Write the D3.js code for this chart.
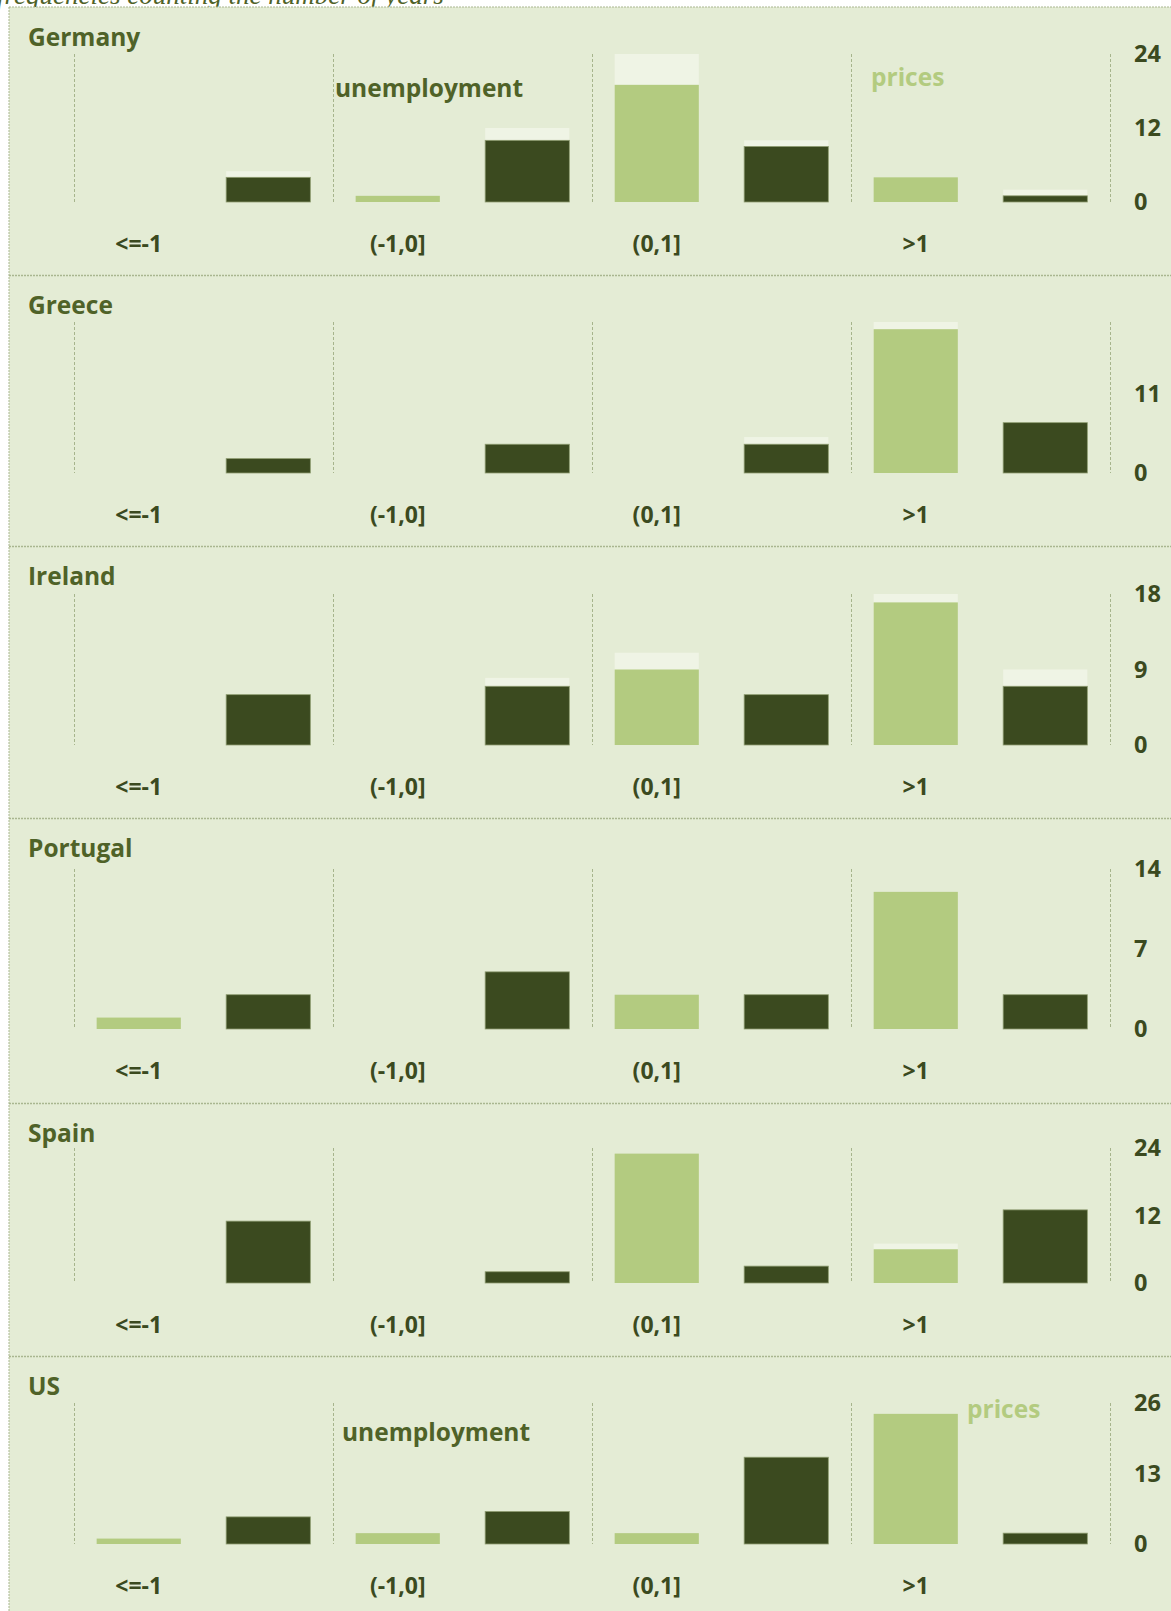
<!DOCTYPE html>
<html>
<head>
<meta charset="utf-8">
<script src="https://cdn.jsdelivr.net/npm/d3@7"></script>
<style>
  html, body { margin: 0; padding: 0; background: #ffffff; }
  svg { display: block; }
</style>
</head>
<body>
<svg id="chart" width="1171" height="1611"></svg>
<script>
// ---------------- DATA ----------------
const titleText = "frequencies counting the number of years";
const categories = ["<=-1", "(-1,0]", "(0,1]", ">1"];
const countries = ["Germany", "Greece", "Ireland", "Portugal", "Spain", "US"];
const seriesNames = ["prices", "unemployment"];
// years per bin (main bars)
const prices = [
  [0, 1, 19, 4],
  [0, 0, 0, 20],
  [0, 0, 9, 17],
  [1, 0, 3, 12],
  [0, 0, 23, 6],
  [1, 2, 2, 24]
];
const unemployment = [
  [4, 10, 9, 1],
  [2, 4, 4, 7],
  [6, 7, 6, 7],
  [3, 5, 3, 3],
  [11, 2, 3, 13],
  [5, 6, 16, 2]
];
// additional years shown as pale cap on top of each bar
const pricesExtra = [
  [0, 0, 5, 0],
  [0, 0, 0, 1],
  [0, 0, 2, 1],
  [0, 0, 0, 0],
  [0, 0, 0, 1],
  [0, 0, 0, 0]
];
const unemploymentExtra = [
  [1, 2, 1, 1],
  [0, 0, 1, 0],
  [0, 1, 0, 2],
  [0, 0, 0, 0],
  [0, 0, 0, 0],
  [0, 0, 0, 0]
];
const axisMax = [24, 21, 18, 14, 24, 26];
const axisTicks = [[0, 12, 24], [0, 11], [0, 9, 18], [0, 7, 14], [0, 12, 24], [0, 13, 26]];
const legendPanels = ["Germany", "US"];

// ---------------- LAYOUT (positions only) ----------------
const W = 1171, H = 1611;
const panelTops = [7, 275, 546, 818, 1103, 1356, 1611];
const plotTops = [54, 322, 594, 869, 1148, 1403];
const baselines = [202, 473, 745, 1029, 1283, 1544];
const plotLeft = 74, plotRight = 1110;
const legendPos = {
  Germany: { unemployment: [335, 88], prices: [871, 77] },
  US: { unemployment: [342, 1432], prices: [967, 1409] }
};

const C = {
  bg: "#e4ecd5",
  dark: "#3b4a1f",
  light: "#b3cb80",
  cap: "#eff4e5",
  olive: "#4f6228",
  grid: "#a6b48c",
  sep: "#a9b690"
};
const FONT = "'Open Sans', 'Noto Sans', sans-serif";

const svg = d3.select("#chart");

// title (mostly cut off at the top, as in the original)
svg.append("text")
  .attr("x", -3).attr("y", 4)
  .attr("font-family", "'Liberation Serif', 'DejaVu Serif', serif")
  .attr("font-style", "italic")
  .attr("font-size", 27)
  .attr("fill", C.olive)
  .text(titleText);

// panel background
svg.append("rect")
  .attr("x", 9).attr("y", 7)
  .attr("width", W - 9 + 5).attr("height", H - 7 + 5)
  .attr("fill", C.bg)
  .attr("stroke", C.sep).attr("stroke-width", 1)
  .attr("stroke-dasharray", "2,1");

// separators
svg.selectAll("line.sep")
  .data(panelTops.slice(1, 6))
  .join("line")
  .attr("class", "sep")
  .attr("x1", 9).attr("x2", W)
  .attr("y1", d => d + 0.5).attr("y2", d => d + 0.5)
  .attr("stroke", C.sep).attr("stroke-width", 1.3)
  .attr("stroke-dasharray", "2,1");

// slot keys: for each category, prices then unemployment
const slots = [];
categories.forEach(c => seriesNames.forEach(s => slots.push(c + "|" + s)));
const x = d3.scaleBand().domain(slots).range([plotLeft, plotRight])
  .paddingInner(0.35).paddingOuter(0.175);
const xCat = d3.scaleBand().domain(categories).range([plotLeft, plotRight]);

countries.forEach((country, i) => {
  const g = svg.append("g").attr("class", "panel");
  const y = d3.scaleLinear().domain([0, axisMax[i]]).range([baselines[i], plotTops[i]]);

  // country name
  g.append("text")
    .attr("x", 28).attr("y", panelTops[i] + 30).attr("dy", "0.35em")
    .attr("font-family", FONT).attr("font-weight", 700).attr("font-size", 24.5)
    .attr("fill", C.olive)
    .text(country);

  // dashed vertical separators
  const bounds = categories.map(c => xCat(c)).concat([plotRight]);
  g.selectAll("line.vg").data(bounds).join("line")
    .attr("class", "vg")
    .attr("x1", d => Math.round(d) + 0.5).attr("x2", d => Math.round(d) + 0.5)
    .attr("y1", plotTops[i]).attr("y2", baselines[i])
    .attr("stroke", C.grid).attr("stroke-width", 1)
    .attr("stroke-dasharray", "3,2");

  // bar records
  const recs = [];
  categories.forEach((c, j) => {
    recs.push({ key: c + "|prices", v: prices[i][j], extra: pricesExtra[i][j], s: "prices" });
    recs.push({ key: c + "|unemployment", v: unemployment[i][j], extra: unemploymentExtra[i][j], s: "unemployment" });
  });

  // pale caps (total incl. extra)
  g.selectAll("rect.cap").data(recs.filter(d => d.extra > 0)).join("rect")
    .attr("class", "cap")
    .attr("x", d => x(d.key)).attr("width", x.bandwidth())
    .attr("y", d => y(d.v + d.extra)).attr("height", d => y(0) - y(d.v + d.extra))
    .attr("fill", C.cap);

  // main bars
  g.selectAll("rect.bar").data(recs.filter(d => d.v > 0)).join("rect")
    .attr("class", "bar")
    .attr("x", d => x(d.key)).attr("width", x.bandwidth())
    .attr("y", d => y(d.v)).attr("height", d => y(0) - y(d.v))
    .attr("fill", d => d.s === "prices" ? C.light : C.dark)
    .attr("stroke", d => d.s === "prices" ? "none" : "#8e9c70")
    .attr("stroke-width", 0.8);

  // right axis
  const ax = g.append("g")
    .attr("transform", `translate(${plotRight + 24},0)`)
    .call(d3.axisRight(y).tickValues(axisTicks[i]).tickSize(0).tickPadding(0).tickFormat(d3.format("d")));
  ax.select(".domain").remove();
  ax.selectAll("text")
    .attr("font-family", FONT).attr("font-weight", 700).attr("font-size", 23.5)
    .attr("fill", C.dark);

  // category labels (under the prices bar of each category)
  g.selectAll("text.cat").data(categories).join("text")
    .attr("class", "cat")
    .attr("x", c => x(c + "|prices") + x.bandwidth() / 2)
    .attr("y", baselines[i] + 42).attr("dy", "0.35em")
    .attr("text-anchor", "middle")
    .attr("font-family", FONT).attr("font-weight", 700).attr("font-size", 23)
    .attr("fill", C.dark)
    .text(c => c);

  // series labels
  if (legendPanels.includes(country)) {
    const lp = legendPos[country];
    g.append("text")
      .attr("x", lp.unemployment[0]).attr("y", lp.unemployment[1]).attr("dy", "0.35em")
      .attr("font-family", FONT).attr("font-weight", 700).attr("font-size", 24.5)
      .attr("fill", C.olive).text(seriesNames[1]);
    g.append("text")
      .attr("x", lp.prices[0]).attr("y", lp.prices[1]).attr("dy", "0.35em")
      .attr("font-family", FONT).attr("font-weight", 700).attr("font-size", 24.5)
      .attr("fill", C.light).text(seriesNames[0]);
  }
});
</script>
</body>
</html>
